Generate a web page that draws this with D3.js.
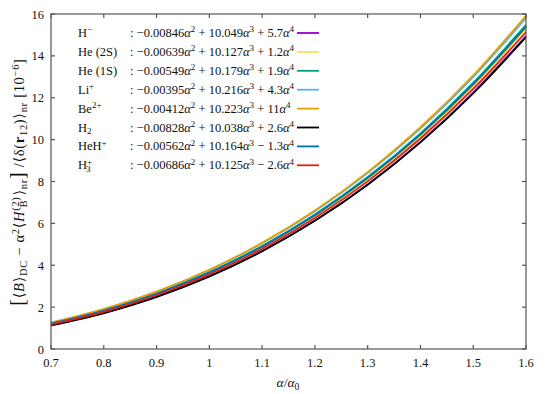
<!DOCTYPE html>
<meta charset="utf-8">
<style>
body { margin: 0; background: #fff; }
text { font-family: "Liberation Serif", "DejaVu Serif", serif; fill: #111; }
.curve { fill: none; stroke-width: 1.8px; }
</style>
<svg width="551" height="394"></svg>
<script src="https://d3js.org/d3.v7.min.js"></script>
<script>

// alpha / alpha0 sample points
var xs = [0.7, 0.8, 0.9, 1.0, 1.1, 1.2, 1.3, 1.4, 1.5, 1.6];

// values in 10^-6
var hMinus = [1.123, 1.718, 2.492, 3.471, 4.676, 6.133, 7.864, 9.894, 12.248, 14.947];
var he2S   = [1.184, 1.799, 2.595, 3.598, 4.831, 6.317, 8.081, 10.145, 12.533, 15.270];
var he1S   = [1.215, 1.840, 2.650, 3.669, 4.919, 6.425, 8.212, 10.302, 12.719, 15.489];
var liPlus = [1.262, 1.903, 2.732, 3.772, 5.047, 6.582, 8.401, 10.528, 12.987, 15.802];
var be2    = [1.263, 1.906, 2.739, 3.784, 5.068, 6.613, 8.446, 10.591, 13.072, 15.915];
var h2     = [1.124, 1.718, 2.491, 3.467, 4.669, 6.121, 7.846, 9.868, 12.210, 14.897];
var hehPlus= [1.207, 1.829, 2.635, 3.647, 4.890, 6.386, 8.161, 10.237, 12.638, 15.388];
var h3Plus = [1.169, 1.778, 2.568, 3.562, 4.784, 6.258, 8.006, 10.052, 12.420, 15.132];

var seriesNames = ["H-", "He (2S)", "He (1S)", "Li+", "Be2+", "H2", "HeH+", "H3+"];
var seriesColors = ["#9400d3", "#f0e442", "#009e73", "#56b4e9", "#e69f00", "#000000", "#0072b2", "#e51e10"];
var coefA2 = ["0.00846", "0.00639", "0.00549", "0.00395", "0.00412", "0.00828", "0.00562", "0.00686"];
var coefA3 = ["10.049", "10.127", "10.179", "10.216", "10.223", "10.038", "10.164", "10.125"];
var coefA4 = ["+ 5.7", "+ 1.2", "+ 1.9", "+ 4.3", "+ 11", "+ 2.6", "\u2212 1.3", "\u2212 2.6"];

var xTicks = [0.7, 0.8, 0.9, 1.0, 1.1, 1.2, 1.3, 1.4, 1.5, 1.6];
var yTicks = [0, 2, 4, 6, 8, 10, 12, 14, 16];

var allSeries = [hMinus, he2S, he1S, liPlus, be2, h2, hehPlus, h3Plus];

var svg = d3.select("svg");
var pLeft = 51, pRight = 526, pTop = 14, pBottom = 349;

var x = d3.scaleLinear().domain([0.7, 1.6]).range([pLeft, pRight]);
var y = d3.scaleLinear().domain([0, 16]).range([pBottom, pTop]);

// rich text helper: parts = [{t, k:'n'|'sup'|'sub', it, b, fs, dx}]
function rich(sel, parts, fs) {
  var cur = 0;
  parts.forEach(function(p) {
    var size = p.fs || (p.k === "n" || !p.k ? fs : fs * 0.72);
    var target = p.k === "sup" ? -fs * 0.38 : p.k === "sub" ? fs * 0.22 : 0;
    var ts = sel.append("tspan").text(p.t)
      .attr("dy", target - cur)
      .style("font-size", size + "px");
    if (p.it) ts.style("font-style", "italic");
    if (p.b) ts.style("font-weight", "bold");
    if (p.dx) ts.attr("dx", p.dx);
    cur = target;
  });
}

// curves
var line = d3.line()
    .curve(d3.curveMonotoneX)
    .x(function(d, i) { return x(xs[i]); })
    .y(function(d) { return y(d); });

var plot = svg.append("g");
allSeries.forEach(function(s, i) {
  plot.append("path")
      .attr("class", "curve")
      .attr("d", line(s))
      .style("stroke", seriesColors[i]);
});

// frame + ticks
var frame = svg.append("g").style("stroke", "#555").style("stroke-width", 1.2);
frame.append("rect")
    .attr("x", pLeft).attr("y", pTop)
    .attr("width", pRight - pLeft).attr("height", pBottom - pTop)
    .style("fill", "none");

xTicks.forEach(function(t) {
  frame.append("line").attr("x1", x(t)).attr("x2", x(t)).attr("y1", pBottom).attr("y2", pBottom - 4);
  frame.append("line").attr("x1", x(t)).attr("x2", x(t)).attr("y1", pTop).attr("y2", pTop + 4);
  svg.append("text")
      .attr("x", x(t)).attr("y", pBottom + 18)
      .attr("text-anchor", "middle")
      .style("font-size", "12.5px")
      .text(t === 1 ? "1" : d3.format(".1f")(t));
});
yTicks.forEach(function(t) {
  frame.append("line").attr("x1", pLeft).attr("x2", pLeft + 4).attr("y1", y(t)).attr("y2", y(t));
  frame.append("line").attr("x1", pRight).attr("x2", pRight - 4).attr("y1", y(t)).attr("y2", y(t));
  svg.append("text")
      .attr("x", pLeft - 7).attr("y", y(t) + 4.5)
      .attr("text-anchor", "end")
      .style("font-size", "12.5px")
      .text(t);
});

// legend
var labelParts = [
  [{t: "H"}, {t: "\u2212", k: "sup"}],
  [{t: "He (2S)"}],
  [{t: "He (1S)"}],
  [{t: "Li"}, {t: "+", k: "sup"}],
  [{t: "Be"}, {t: "2+", k: "sup"}],
  [{t: "H"}, {t: "2", k: "sub"}],
  [{t: "HeH"}, {t: "+", k: "sup"}],
  [{t: "H"}, {t: "+", k: "sup"}, {t: "3", k: "sub", dx: -6}]
];

var legend = svg.append("g");
seriesNames.forEach(function(name, i) {
  var yy = 37 + i * 18.9;
  rich(legend.append("text").attr("x", 78).attr("y", yy), labelParts[i], 12.5);
  rich(legend.append("text").attr("x", 130).attr("y", yy), [
    {t: ": \u2212" + coefA2[i]}, {t: "\u03b1", it: true}, {t: "2", k: "sup"},
    {t: " + " + coefA3[i]}, {t: "\u03b1", it: true}, {t: "3", k: "sup"},
    {t: " " + coefA4[i]}, {t: "\u03b1", it: true}, {t: "4", k: "sup"}
  ], 12.5);
  legend.append("line")
      .attr("x1", 297).attr("x2", 319)
      .attr("y1", yy - 4).attr("y2", yy - 4)
      .style("stroke", seriesColors[i])
      .style("stroke-width", 1.8);
});

// axis titles
rich(svg.append("text").attr("x", 288).attr("y", 387).attr("text-anchor", "middle"), [
  {t: "\u03b1", it: true}, {t: "/"}, {t: "\u03b1", it: true}, {t: "0", k: "sub"}
], 13.5);

rich(svg.append("text")
    .attr("transform", "translate(24,182) rotate(-90)")
    .attr("text-anchor", "middle")
    .style("letter-spacing", "0.7px"), [
  {t: "[", fs: 20}, {t: "\u27e8"}, {t: "B", it: true}, {t: "\u27e9"}, {t: "DC", k: "sub"},
  {t: " \u2212 \u03b1"}, {t: "2", k: "sup"}, {t: "\u27e8"}, {t: "H", it: true},
  {t: "(2)", k: "sup"}, {t: "B", k: "sub", dx: -11}, {t: " \u27e9"}, {t: "nr", k: "sub"},
  {t: "]", fs: 20}, {t: " /\u27e8\u03b4("}, {t: "r", b: true}, {t: "12", k: "sub"},
  {t: ")\u27e9"}, {t: "nr", k: "sub"}, {t: " [10"}, {t: "\u22126", k: "sup"}, {t: "]"}
], 14.5);

</script>
